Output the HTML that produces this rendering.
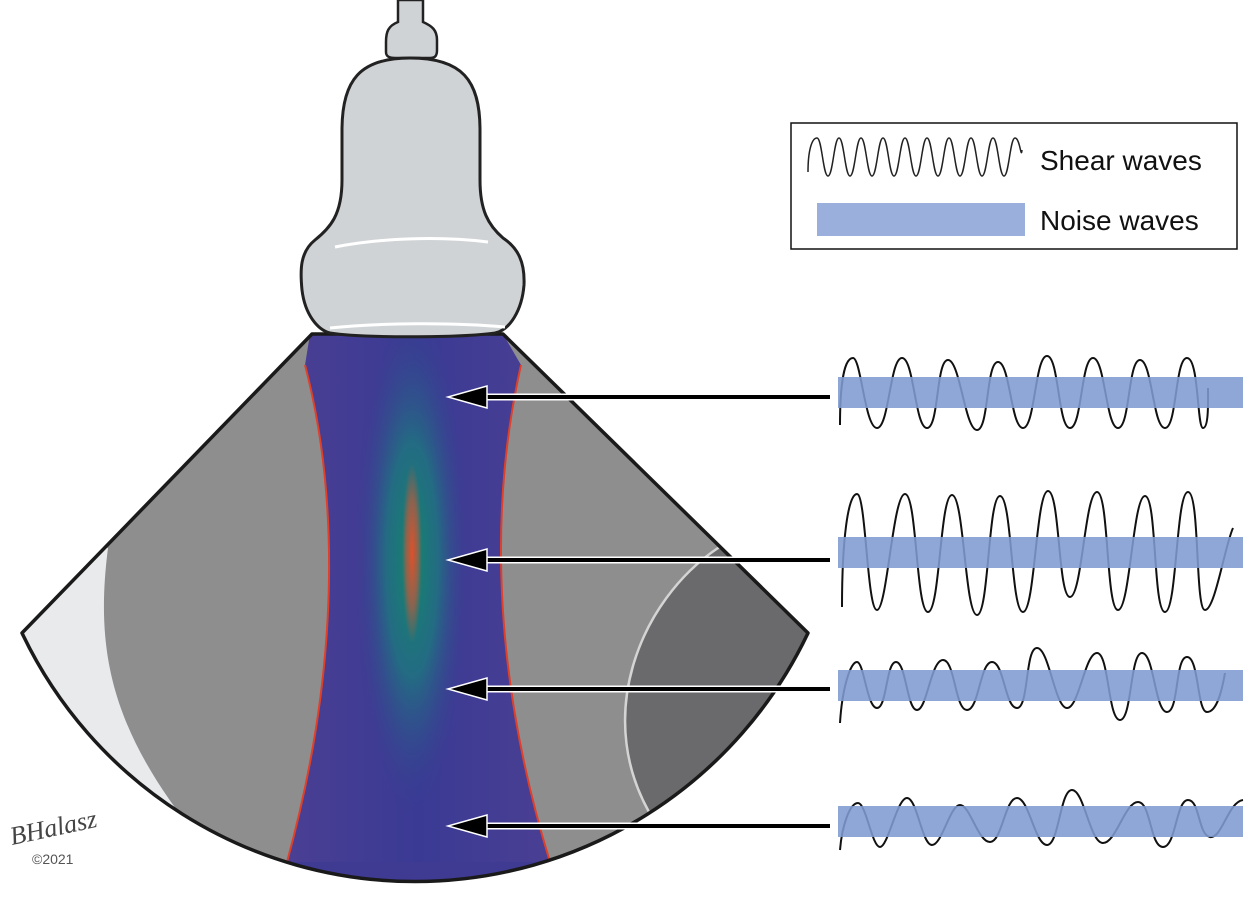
<!DOCTYPE html>
<html><head><meta charset="utf-8"><style>
html,body{margin:0;padding:0;background:#fff;width:1250px;height:899px;overflow:hidden}
svg{display:block}
</style></head><body>
<svg width="1250" height="899" viewBox="0 0 1250 899" xmlns="http://www.w3.org/2000/svg">
<defs>
<clipPath id="fan"><path d="M312,334 L503,334 L808,633 A435,435 0 0 1 22,633 Z"/></clipPath>
<linearGradient id="beamH" x1="0" x2="1" y1="0" y2="0">
<stop offset="0" stop-color="#4a3f93"/><stop offset="0.5" stop-color="#3a3a94"/><stop offset="1" stop-color="#4a3f93"/>
</linearGradient>
<radialGradient id="glow" cx="0.5" cy="0.5" r="0.5">
<stop offset="0" stop-color="#13866a" stop-opacity="1"/><stop offset="0.45" stop-color="#1f7480" stop-opacity="0.85"/><stop offset="1" stop-color="#3a3a94" stop-opacity="0"/>
</radialGradient>
<radialGradient id="core" cx="0.5" cy="0.5" r="0.5">
<stop offset="0" stop-color="#e0502a"/><stop offset="0.6" stop-color="#b85a40" stop-opacity="0.7"/><stop offset="1" stop-color="#b85a40" stop-opacity="0"/>
</radialGradient>
</defs>

<g clip-path="url(#fan)">
<rect x="0" y="330" width="830" height="560" fill="#8e8e8f"/>
<path d="M108,548 C95,650 110,730 200,840 L0,900 L0,500 Z" fill="#e8eaec"/>
<path d="M718,548 C640,600 590,720 655,822 L830,900 L830,500 Z" fill="#6a6a6c" stroke="#d4d4d4" stroke-width="2.5"/>
<path d="M310,334 L503,334 L521,365 C495,480 485,650 550,862 L287,862 C345,650 335,480 305,365 Z" fill="url(#beamH)"/>
<path d="M287,862 L550,862 L560,890 L270,890 Z" fill="#3f3a92"/>
<ellipse cx="412" cy="560" rx="58" ry="260" fill="url(#glow)"/>
<ellipse cx="412" cy="553" rx="10" ry="90" fill="url(#core)"/>
<path d="M305,365 C335,480 345,650 287,862" fill="none" stroke="#e0402a" stroke-width="2"/>
<path d="M521,365 C495,480 485,650 550,862" fill="none" stroke="#e0402a" stroke-width="2"/>
</g>
<path d="M312,334 L503,334 L808,633 A435,435 0 0 1 22,633 Z" fill="none" stroke="#1a1a1a" stroke-width="3.5" stroke-linejoin="round"/>

<path d="M398,0 L398,22 C388,26 386,32 386,42 L386,52 C386,57 390,58 395,58 L430,58 C435,58 437,56 437,50 L437,40 C437,30 432,26 423,22 L423,0 Z" fill="#d0d3d6" stroke="#222" stroke-width="2.5"/>
<path d="M410,58 C360,58 342,80 342,130 L342,180 C342,215 330,228 315,240 C300,252 300,270 302,290 C305,315 318,330 330,333 C360,338 460,338 495,333 C510,330 522,310 524,285 C525,262 518,248 503,238 C488,225 480,210 480,180 L480,130 C480,80 462,58 410,58 Z" fill="#d0d3d6" stroke="#222" stroke-width="3"/>
<path d="M335,247 C380,238 440,236 488,242" fill="none" stroke="#fff" stroke-width="3"/>
<path d="M330,328 C380,323 450,322 505,327" fill="none" stroke="#fff" stroke-width="3"/>

<g>
<g stroke="#fff" stroke-width="7"><line x1="480" y1="397" x2="830" y2="397"/><line x1="480" y1="560" x2="830" y2="560"/><line x1="480" y1="689" x2="830" y2="689"/><line x1="480" y1="826" x2="830" y2="826"/></g>
<g stroke="#000" stroke-width="4"><line x1="480" y1="397" x2="830" y2="397"/><line x1="480" y1="560" x2="830" y2="560"/><line x1="480" y1="689" x2="830" y2="689"/><line x1="480" y1="826" x2="830" y2="826"/></g>
<g fill="#000" stroke="#fff" stroke-width="1.5">
<path d="M448,397 L487,386 L487,408 Z"/><path d="M448,560 L487,549 L487,571 Z"/><path d="M448,689 L487,678 L487,700 Z"/><path d="M448,826 L487,815 L487,837 Z"/>
</g>
</g>

<g fill="none" stroke="#111" stroke-width="2">
<path d="M840,425 C840,380 845,358 853,358 S865,428 877,428 S890,358 902,358 S915,428 927,428 S936,360 948,360 S965,430 977,430 S986,362 998,362 S1011,428 1023,428 S1035,356 1047,356 S1058,428 1070,428 S1081,358 1093,358 S1106,428 1118,428 S1128,360 1140,360 S1153,428 1165,428 S1175,358 1187,358 S1197,428 1203,428 S1208,400 1208,388"/>
<path d="M842,607 C842,540 848,494 857,494 S867,610 877,610 S893,494 905,494 S916,612 928,612 S940,495 952,495 S965,615 977,615 S988,496 1000,496 S1011,612 1023,612 S1036,491 1048,491 S1058,597 1070,597 S1085,492 1097,492 S1106,610 1118,610 S1133,496 1145,496 S1153,612 1165,612 S1176,492 1188,492 S1195,610 1205,610 S1225,545 1233,528"/>
<path d="M840,723 C842,690 850,662 857,662 S867,708 877,708 S886,662 896,662 S907,710 917,710 S931,660 943,660 S955,710 967,710 S980,662 992,662 S1005,708 1017,708 S1025,648 1037,648 S1055,708 1067,708 S1085,653 1097,653 S1108,720 1120,720 S1130,653 1142,653 S1155,712 1167,712 S1175,657 1187,657 S1197,712 1207,712 S1222,690 1225,673"/>
<path d="M840,850 C842,825 850,803 858,803 S872,847 880,847 S897,798 907,798 S922,845 932,845 S950,805 960,805 S978,842 990,842 S1005,798 1017,798 S1035,845 1047,845 S1060,790 1072,790 S1090,843 1103,843 S1125,802 1138,802 S1150,847 1163,847 S1176,800 1188,800 S1198,835 1210,837 S1228,802 1243,800"/>
</g>
<g fill="#7f9bd0" opacity="0.88">
<rect x="838" y="377" width="405" height="31"/>
<rect x="838" y="537" width="405" height="31"/>
<rect x="838" y="670" width="405" height="31"/>
<rect x="838" y="806" width="405" height="31"/>
</g>

<rect x="791" y="123" width="446" height="126" fill="#fff" stroke="#111" stroke-width="1.5"/>
<path d="M808,172 C808,150 812,138 817,138 S823,176 828,176 S834,138 839,138 S845,176 850,176 S856,138 861,138 S867,176 872,176 S878,138 883,138 S889,176 894,176 S900,138 905,138 S911,176 916,176 S922,138 927,138 S933,176 938,176 S944,138 949,138 S955,176 960,176 S966,138 971,138 S977,176 982,176 S988,138 993,138 S999,176 1004,176 S1010,138 1015,138 S1021,160 1022,150" fill="none" stroke="#222" stroke-width="1.5"/>
<text x="1040" y="170" font-family="Liberation Sans, sans-serif" font-size="28" fill="#111">Shear waves</text>
<rect x="817" y="203" width="208" height="33" fill="#9aafdc"/>
<text x="1040" y="230" font-family="Liberation Sans, sans-serif" font-size="28" fill="#111">Noise waves</text>

<text x="12" y="845" font-family="Liberation Serif, serif" font-style="italic" font-size="26" fill="#444" transform="rotate(-12 12 845)">BHalasz</text>
<text x="32" y="864" font-family="Liberation Sans, sans-serif" font-size="14" fill="#555">©2021</text>
</svg>
</body></html>
